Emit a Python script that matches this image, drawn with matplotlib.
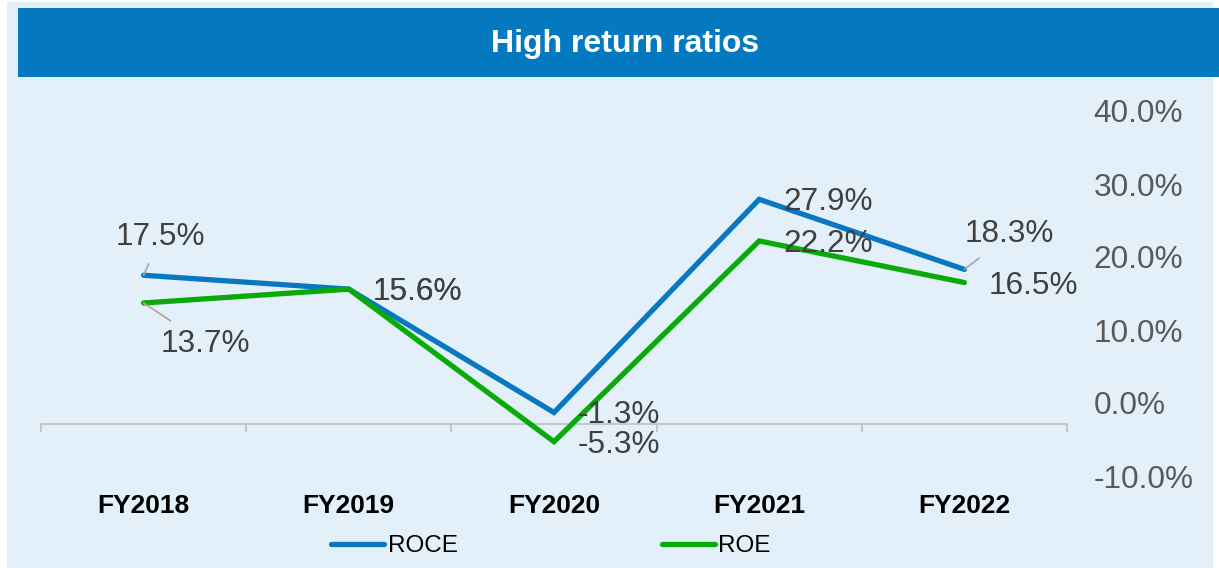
import matplotlib
matplotlib.use("Agg")
from matplotlib import pyplot as plt
from matplotlib.patches import Rectangle
from matplotlib.ticker import FuncFormatter

years = ["FY2018", "FY2019", "FY2020", "FY2021", "FY2022"]
roce = [17.5, 15.6, -1.3, 27.9, 18.3]
roe = [13.7, 15.6, -5.3, 22.2, 16.5]
y_ticks = [-10, 0, 10, 20, 30, 40]

# label offsets in pixels (dx, dy), None = default right-side placement
roce_offsets = [(17, 38), None, None, None, (45, 35)]
roe_offsets = [(62, -41), None, None, None, None]

plt.rcParams["font.family"] = ["Liberation Sans", "DejaVu Sans"]

W, H = 1219, 568
fig = plt.figure(figsize=(W / 100, H / 100), dpi=100)
fig.patch.set_facecolor("white")

# panel background and title bar
fig.add_artist(Rectangle((7 / W, 0), (1213 - 7) / W, 1 - 2 / H,
                         transform=fig.transFigure, facecolor="#E3F0F9",
                         edgecolor="none", zorder=0))
fig.add_artist(Rectangle((18 / W, 1 - 77 / H), (W - 18) / W, 69 / H,
                         transform=fig.transFigure, facecolor="#0579C0",
                         edgecolor="none", zorder=1))
fig.text(625 / W, 1 - 44 / H, "High return ratios", color="white",
         fontsize=23, fontweight="bold", ha="center", va="center")

ax = fig.add_axes([41 / W, 1 - 476 / H, (1067 - 41) / W, (476 - 111) / H])
ax.set_facecolor("none")

x = list(range(len(years)))
ax.plot(x, roce, color="#0A77C1", lw=3.8, solid_capstyle="round",
        solid_joinstyle="miter", label="ROCE", zorder=3)
ax.plot(x, roe, color="#0AAA0A", lw=3.8, solid_capstyle="round",
        solid_joinstyle="miter", label="ROE", zorder=4)

ax.set_xlim(-0.5, len(years) - 0.5)
ax.set_ylim(-10, 40)

# y axis on the right, no line
ax.yaxis.tick_right()
ax.set_yticks(y_ticks)
ax.yaxis.set_major_formatter(FuncFormatter(lambda v, p: f"{v:.1f}%"))
ax.tick_params(axis="y", length=0, pad=19, labelsize=22.7, labelcolor="#595959")

# category axis
for s in ["top", "left", "right"]:
    ax.spines[s].set_visible(False)
ax.spines["bottom"].set_position(("data", -2.9))
ax.spines["bottom"].set_color("#BFBFBF")
ax.spines["bottom"].set_linewidth(1.2)
ax.set_xticks(x)
ax.set_xticklabels(years, fontweight="bold", fontsize=19, color="black")
ax.tick_params(axis="x", length=0, pad=50)
ax.set_xticks([i - 0.5 for i in range(len(years) + 1)], minor=True)
ax.tick_params(axis="x", which="minor", length=6, width=1.2, color="#BFBFBF",
               direction="out")

def put_labels(vals, offsets):
    for i, v in enumerate(vals):
        off = offsets[i]
        if off is None:
            ax.annotate(f"{v:.1f}%", (i, v), xytext=(24, -3),
                        textcoords="offset pixels", ha="left", va="center",
                        fontsize=22.7, color="#404040", zorder=5)
        else:
            ax.annotate(f"{v:.1f}%", (i, v), xytext=off,
                        textcoords="offset pixels", ha="center", va="center",
                        fontsize=22.7, color="#404040", zorder=5,
                        arrowprops=dict(arrowstyle="-", color="#A6A6A6",
                                        lw=1.2, shrinkA=7, shrinkB=0))

put_labels(roce, roce_offsets)
put_labels(roe, roe_offsets)

fig.legend(loc="center", bbox_to_anchor=(551 / W, 1 - 546 / H), ncol=2,
           frameon=False, fontsize=17.5, handlelength=2.18, handletextpad=0.15,
           columnspacing=8.4, borderpad=0, borderaxespad=0)

fig.savefig("out.png", dpi=100)
